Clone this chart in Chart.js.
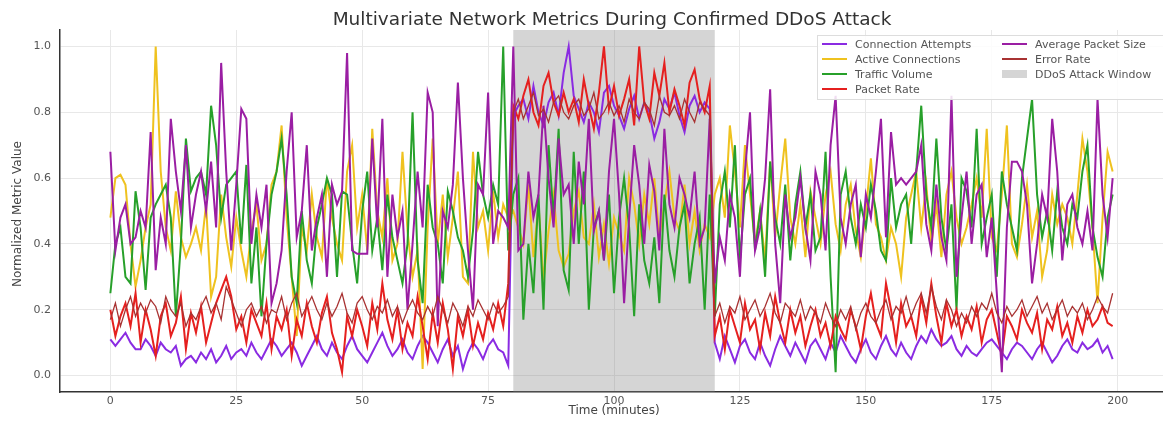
<!DOCTYPE html>
<html lang="en">
<head>
    <meta charset="UTF-8">
    <title>DDoS Metrics Chart</title>
    <script src="https://cdn.jsdelivr.net/npm/chart.js"></script>
    <style>
        body { margin: 0; background: #fff; }
    </style>
</head>
<body>
    <canvas id="ddosChart" width="1163" height="423"></canvas>

    <script>
        // values, one per minute (0..199)
        const connectionAttempts = [
            0.11,0.09,0.11,0.13,0.10,0.08,0.08,0.11,0.09,0.06,0.10,0.08,0.07,0.09,0.03,0.05,0.06,0.04,0.07,0.05,
            0.08,0.04,0.06,0.09,0.05,0.07,0.08,0.06,0.10,0.07,0.05,0.08,0.11,0.09,0.06,0.08,0.10,0.07,0.03,0.06,
            0.09,0.12,0.08,0.06,0.10,0.07,0.05,0.09,0.12,0.08,0.06,0.04,0.07,0.10,0.13,0.09,0.06,0.08,0.11,0.07,
            0.05,0.09,0.12,0.10,0.07,0.04,0.08,0.11,0.06,0.09,0.02,0.07,0.10,0.08,0.05,0.09,0.11,0.08,0.07,0.03,
            0.79,0.82,0.84,0.78,0.88,0.80,0.76,0.83,0.86,0.79,0.92,1.00,0.85,0.81,0.77,0.83,0.80,0.74,0.86,0.88,
            0.82,0.79,0.75,0.81,0.85,0.78,0.83,0.80,0.72,0.77,0.84,0.81,0.86,0.79,0.74,0.82,0.85,0.80,0.83,0.81,
            0.10,0.05,0.12,0.08,0.04,0.09,0.11,0.07,0.05,0.10,0.06,0.03,0.08,0.12,0.09,0.06,0.10,0.07,0.04,0.09,
            0.11,0.08,0.05,0.10,0.07,0.12,0.09,0.06,0.04,0.08,0.11,0.07,0.05,0.09,0.12,0.08,0.06,0.10,0.07,0.05,
            0.09,0.12,0.10,0.14,0.11,0.09,0.10,0.12,0.08,0.06,0.09,0.07,0.06,0.08,0.10,0.11,0.09,0.07,0.05,0.08,
            0.10,0.09,0.07,0.05,0.08,0.10,0.07,0.04,0.06,0.09,0.11,0.08,0.07,0.10,0.08,0.09,0.11,0.07,0.09,0.05
        ];
        const activeConnections = [
            0.48,0.60,0.61,0.58,0.40,0.27,0.35,0.45,0.52,1.00,0.62,0.45,0.38,0.56,0.42,0.36,0.40,0.45,0.38,0.52,
            0.24,0.30,0.55,0.42,0.33,0.48,0.38,0.30,0.44,0.52,0.35,0.40,0.58,0.62,0.76,0.48,0.30,0.12,0.45,0.38,
            0.55,0.42,0.36,0.60,0.48,0.40,0.35,0.62,0.70,0.45,0.55,0.38,0.75,0.50,0.42,0.60,0.35,0.40,0.68,0.44,
            0.30,0.38,0.02,0.45,0.72,0.40,0.55,0.36,0.48,0.62,0.30,0.28,0.68,0.45,0.50,0.38,0.56,0.42,0.52,0.48,
            0.50,0.45,0.40,0.58,0.36,0.52,0.29,0.44,0.55,0.38,0.33,0.37,0.50,0.56,0.42,0.40,0.52,0.36,0.46,0.34,
            0.48,0.43,0.38,0.60,0.52,0.40,0.55,0.46,0.60,0.42,0.52,0.62,0.48,0.44,0.58,0.40,0.50,0.38,0.46,0.42,
            0.55,0.60,0.48,0.76,0.62,0.45,0.70,0.55,0.40,0.50,0.35,0.65,0.42,0.58,0.72,0.48,0.40,0.52,0.36,0.56,
            0.48,0.40,0.55,0.62,0.46,0.38,0.52,0.58,0.44,0.36,0.50,0.66,0.46,0.42,0.35,0.45,0.40,0.30,0.48,0.55,
            0.62,0.45,0.58,0.40,0.52,0.36,0.55,0.62,0.48,0.40,0.45,0.52,0.60,0.48,0.75,0.42,0.38,0.55,0.76,0.40,
            0.36,0.46,0.58,0.42,0.50,0.30,0.38,0.55,0.46,0.52,0.48,0.40,0.55,0.72,0.62,0.45,0.22,0.48,0.68,0.62
        ];
        const trafficVolume = [
            0.25,0.40,0.45,0.30,0.28,0.56,0.45,0.26,0.48,0.52,0.55,0.58,0.48,0.18,0.40,0.72,0.56,0.60,0.62,0.55,
            0.82,0.70,0.48,0.58,0.60,0.62,0.40,0.64,0.28,0.45,0.18,0.40,0.55,0.62,0.72,0.55,0.30,0.22,0.50,0.35,
            0.28,0.45,0.52,0.60,0.55,0.30,0.56,0.55,0.40,0.28,0.50,0.62,0.38,0.48,0.32,0.55,0.42,0.35,0.28,0.40,
            0.80,0.35,0.22,0.58,0.45,0.40,0.28,0.56,0.50,0.42,0.38,0.30,0.44,0.68,0.55,0.48,0.58,0.52,1.00,0.38,
            0.55,0.60,0.17,0.40,0.25,0.55,0.20,0.70,0.48,0.75,0.32,0.26,0.68,0.40,0.62,0.20,0.45,0.50,0.35,0.55,
            0.25,0.48,0.60,0.45,0.18,0.52,0.35,0.28,0.42,0.22,0.55,0.38,0.30,0.45,0.52,0.28,0.40,0.48,0.20,0.55,
            0.18,0.52,0.62,0.45,0.70,0.35,0.55,0.60,0.38,0.50,0.30,0.65,0.48,0.40,0.58,0.35,0.52,0.62,0.45,0.55,
            0.38,0.42,0.68,0.30,0.01,0.55,0.62,0.48,0.40,0.52,0.45,0.58,0.50,0.38,0.35,0.60,0.45,0.52,0.55,0.40,
            0.62,0.82,0.55,0.45,0.72,0.48,0.38,0.52,0.20,0.60,0.56,0.45,0.75,0.40,0.48,0.55,0.30,0.62,0.52,0.45,
            0.38,0.60,0.72,0.84,0.55,0.42,0.50,0.38,0.56,0.45,0.40,0.52,0.48,0.62,0.70,0.45,0.36,0.30,0.48,0.55
        ];
        const packetRate = [
            0.20,0.12,0.18,0.22,0.15,0.25,0.10,0.20,0.14,0.06,0.18,0.22,0.12,0.16,0.24,0.08,0.19,0.13,0.21,0.10,
            0.16,0.22,0.26,0.30,0.24,0.14,0.18,0.10,0.20,0.16,0.12,0.22,0.08,0.18,0.14,0.20,0.06,0.17,0.12,0.22,
            0.15,0.10,0.19,0.24,0.13,0.08,0.01,0.18,0.12,0.20,0.15,0.09,0.22,0.14,0.28,0.17,0.11,0.20,0.08,0.16,
            0.12,0.24,0.15,0.05,0.19,0.10,0.22,0.14,0.02,0.18,0.12,0.20,0.09,0.16,0.11,0.19,0.14,0.22,0.15,0.28,
            0.82,0.78,0.85,0.90,0.80,0.76,0.88,0.92,0.83,0.79,0.86,0.80,0.84,0.77,0.90,0.82,0.75,0.86,1.00,0.81,
            0.88,0.79,0.84,0.90,0.76,1.00,0.83,0.78,0.92,0.85,0.95,0.80,0.87,0.82,0.76,0.89,0.93,0.84,0.80,0.88,
            0.12,0.18,0.08,0.20,0.15,0.10,0.22,0.14,0.17,0.08,0.19,0.12,0.24,0.16,0.10,0.20,0.13,0.18,0.09,0.15,
            0.20,0.12,0.16,0.09,0.18,0.14,0.11,0.20,0.15,0.08,0.18,0.25,0.16,0.12,0.28,0.20,0.10,0.22,0.15,0.18,
            0.12,0.24,0.16,0.28,0.18,0.10,0.22,0.15,0.20,0.12,0.18,0.14,0.21,0.10,0.17,0.20,0.13,0.06,0.18,0.15,
            0.11,0.20,0.16,0.13,0.19,0.08,0.17,0.14,0.21,0.12,0.16,0.10,0.18,0.13,0.20,0.15,0.17,0.21,0.16,0.15
        ];
        const avgPacketSize = [
            0.68,0.38,0.48,0.52,0.40,0.42,0.50,0.45,0.74,0.32,0.48,0.40,0.78,0.62,0.50,0.70,0.45,0.55,0.62,0.50,
            0.65,0.45,0.95,0.62,0.38,0.58,0.81,0.78,0.40,0.55,0.45,0.58,0.22,0.28,0.38,0.62,0.80,0.42,0.50,0.70,
            0.38,0.48,0.55,0.30,0.58,0.52,0.56,0.98,0.38,0.37,0.37,0.37,0.72,0.45,0.78,0.30,0.55,0.42,0.50,0.20,
            0.40,0.62,0.45,0.86,0.80,0.15,0.50,0.45,0.58,0.89,0.60,0.38,0.20,0.58,0.55,0.86,0.40,0.50,0.48,0.45,
            1.00,0.38,0.40,0.62,0.48,0.55,0.82,0.60,0.45,0.72,0.55,0.58,0.40,0.65,0.52,0.78,0.44,0.50,0.35,0.62,
            0.78,0.55,0.22,0.48,0.70,0.58,0.40,0.64,0.56,0.38,0.75,0.52,0.45,0.60,0.55,0.48,0.62,0.40,0.45,0.78,
            0.28,0.42,0.35,0.55,0.48,0.30,0.62,0.80,0.38,0.45,0.60,0.87,0.40,0.22,0.55,0.42,0.48,0.60,0.45,0.35,
            0.62,0.55,0.38,0.70,0.85,0.48,0.40,0.52,0.58,0.36,0.55,0.48,0.62,0.78,0.42,0.74,0.58,0.60,0.58,0.60,
            0.62,0.70,0.46,0.38,0.58,0.42,0.35,0.85,0.30,0.48,0.62,0.40,0.55,0.58,0.36,0.48,0.25,0.01,0.45,0.65,
            0.65,0.62,0.52,0.28,0.40,0.55,0.48,0.78,0.62,0.35,0.52,0.55,0.45,0.40,0.50,0.38,0.84,0.55,0.42,0.60
        ];
        const errorRate = [
            0.17,0.22,0.15,0.20,0.24,0.18,0.22,0.19,0.23,0.21,0.16,0.24,0.20,0.18,0.22,0.15,0.19,0.17,0.21,0.24,
            0.19,0.22,0.17,0.27,0.23,0.19,0.15,0.20,0.22,0.18,0.21,0.16,0.20,0.19,0.24,0.17,0.22,0.25,0.18,0.21,
            0.24,0.20,0.17,0.22,0.18,0.21,0.25,0.19,0.16,0.22,0.24,0.20,0.17,0.21,0.19,0.23,0.18,0.21,0.16,0.20,
            0.23,0.19,0.17,0.21,0.18,0.24,0.20,0.16,0.22,0.19,0.15,0.21,0.18,0.23,0.20,0.17,0.22,0.19,0.21,0.24,
            0.80,0.84,0.78,0.82,0.86,0.79,0.81,0.77,0.83,0.85,0.80,0.78,0.82,0.84,0.79,0.81,0.86,0.78,0.80,0.83,
            0.79,0.82,0.77,0.84,0.80,0.78,0.83,0.81,0.76,0.85,0.80,0.79,0.82,0.78,0.84,0.80,0.77,0.83,0.81,0.79,
            0.18,0.22,0.16,0.21,0.19,0.24,0.17,0.20,0.23,0.18,0.21,0.25,0.19,0.16,0.22,0.20,0.18,0.23,0.17,0.21,
            0.19,0.16,0.22,0.18,0.15,0.20,0.17,0.21,0.14,0.19,0.22,0.18,0.16,0.20,0.23,0.17,0.21,0.19,0.24,0.18,
            0.22,0.25,0.19,0.27,0.21,0.17,0.23,0.20,0.15,0.19,0.16,0.21,0.18,0.22,0.20,0.25,0.19,0.16,0.21,0.18,
            0.20,0.23,0.18,0.21,0.24,0.19,0.22,0.17,0.20,0.23,0.18,0.21,0.19,0.22,0.17,0.20,0.24,0.21,0.19,0.25
        ];

        const seriesNames = ['Connection Attempts', 'Active Connections', 'Traffic Volume',
                             'Packet Rate', 'Average Packet Size', 'Error Rate'];
        const attackWindow = [80, 120];
        const xTicks = [0, 25, 50, 75, 100, 125, 150, 175, 200];
        const yTicks = [0.0, 0.2, 0.4, 0.6, 0.8, 1.0];

        const allSeries = [connectionAttempts, activeConnections, trafficVolume,
                           packetRate, avgPacketSize, errorRate];
        const colors = ['#8a2be2', '#efc21f', '#27a02a', '#e5201f', '#9a1ea3', '#a83232'];
        const widths = [2, 2, 2, 2, 2, 1.3];

        const datasets = allSeries.map((vals, i) => ({
            label: seriesNames[i],
            data: vals.map((v, t) => ({ x: t, y: v })),
            borderColor: colors[i],
            borderWidth: widths[i],
            pointRadius: 0,
            tension: 0,
            fill: false,
            order: allSeries.length - i   // later series on top, like the source
        }));

        const FONT = '"DejaVu Sans", sans-serif';

        // grey band for the attack window, under the lines
        const attackBand = {
            id: 'attackBand',
            beforeDatasetsDraw(chart) {
                const { ctx, chartArea, scales } = chart;
                const x0 = scales.x.getPixelForValue(attackWindow[0]);
                const x1 = scales.x.getPixelForValue(attackWindow[1]);
                ctx.save();
                ctx.fillStyle = 'rgba(128,128,128,0.33)';
                ctx.fillRect(x0, chartArea.top, x1 - x0, chartArea.bottom - chartArea.top);
                ctx.restore();
            }
        };

        // title, axis titles and two column legend
        const decorations = {
            id: 'decorations',
            afterDraw(chart) {
                const { ctx } = chart;
                ctx.save();
                ctx.fillStyle = '#333';
                ctx.textAlign = 'center';
                ctx.textBaseline = 'middle';
                ctx.font = '18.5px ' + FONT;
                ctx.fillText('Multivariate Network Metrics During Confirmed DDoS Attack', 612, 20);

                ctx.font = '12px ' + FONT;
                ctx.fillStyle = '#444';
                ctx.fillText('Time (minutes)', 614, 411);
                ctx.translate(18, 214);
                ctx.rotate(-Math.PI / 2);
                ctx.fillText('Normalized Metric Value', 0, 0);
                ctx.restore();

                // legend
                ctx.save();
                const bx = 817, by = 35, bw = 346, bh = 64;
                ctx.fillStyle = 'rgba(255,255,255,0.85)';
                ctx.strokeStyle = '#dddddd';
                ctx.lineWidth = 1;
                ctx.fillRect(bx, by, bw, bh);
                ctx.strokeRect(bx + 0.5, by + 0.5, bw, bh);
                ctx.font = '11px ' + FONT;
                ctx.textAlign = 'left';
                ctx.textBaseline = 'middle';
                const items = seriesNames.map((n, i) => ({ text: n, color: colors[i], kind: 'line' }));
                items.push({ text: 'DDoS Attack Window', color: 'rgba(128,128,128,0.33)', kind: 'patch' });
                items.forEach((it, k) => {
                    const col = k < 4 ? 0 : 1;
                    const row = k < 4 ? k : k - 4;
                    const lx = col === 0 ? 822 : 1002;
                    const ly = 44 + row * 15;
                    if (it.kind === 'line') {
                        ctx.strokeStyle = it.color;
                        ctx.lineWidth = 2;
                        ctx.beginPath();
                        ctx.moveTo(lx, ly);
                        ctx.lineTo(lx + 25, ly);
                        ctx.stroke();
                    } else {
                        ctx.fillStyle = it.color;
                        ctx.fillRect(lx, ly - 4, 25, 8);
                    }
                    ctx.fillStyle = '#555';
                    ctx.fillText(it.text, lx + 33, ly + 1);
                });
                ctx.restore();
            }
        };

        const ctx = document.getElementById('ddosChart').getContext('2d');
        new Chart(ctx, {
            type: 'line',
            data: { datasets: datasets },
            plugins: [attackBand, decorations],
            options: {
                responsive: false,
                animation: false,
                devicePixelRatio: 1,
                layout: { padding: { top: 30, right: 0, left: 0, bottom: 0 } },
                plugins: {
                    legend: { display: false },
                    tooltip: { enabled: false }
                },
                scales: {
                    x: {
                        type: 'linear',
                        min: -10,
                        max: 209,
                        afterBuildTicks: s => { s.ticks = xTicks.map(v => ({ value: v })); },
                        afterFit: s => { s.height = 31; },
                        grid: { color: '#e8e8e8', drawTicks: false },
                        border: { color: '#333', width: 1.5 },
                        ticks: {
                            padding: 3,
                            maxRotation: 0,
                            color: '#555',
                            font: { family: FONT, size: 11 },
                            callback: v => String(v)
                        }
                    },
                    y: {
                        min: -0.05,
                        max: 1.05,
                        afterBuildTicks: s => { s.ticks = yTicks.map(v => ({ value: v })); },
                        afterFit: s => { s.width = 60; },
                        grid: { color: '#e8e8e8', drawTicks: false },
                        border: { color: '#333', width: 1.5 },
                        ticks: {
                            padding: 9,
                            color: '#555',
                            font: { family: FONT, size: 11 },
                            callback: v => Number(v).toFixed(1)
                        }
                    }
                }
            }
        });
    </script>
</body>
</html>
